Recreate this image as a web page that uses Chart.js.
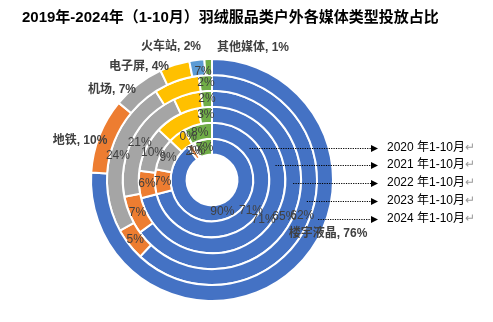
<!DOCTYPE html>
<html><head><meta charset="utf-8">
<script src="https://cdn.jsdelivr.net/npm/chart.js@4/dist/chart.umd.min.js"></script>
<style>html,body{margin:0;padding:0;background:#fff;}#wrap{position:relative;width:493px;height:322px;}</style>
</head><body><div id="wrap"><canvas id="c" width="493" height="322"></canvas></div>
<script>
// ---- data ----
const title = '2019年-2024年（1-10月）羽绒服品类户外各媒体类型投放占比';
const categories = ['楼宇液晶', '地铁', '机场', '电子屏', '火车站', '其他媒体'];
const years = ['2019', '2020', '2021', '2022', '2023', '2024'];
const v2019 = [90, 2, 1, 0, 0, 7];
const v2020 = [71, 7, 9, 5, 0, 8];
const v2021 = [71, 6, 10, 10, 0, 3];
const v2022 = [65, 7, 21, 5, 0, 2];
const v2023 = [62, 5, 24, 7, 0, 2];
const v2024 = [76, 10, 7, 4, 2, 1];
const ringNames = ['2020 年1-10月', '2021 年1-10月', '2022 年1-10月', '2023 年1-10月', '2024 年1-10月'];

// ---- styles ----
const colors = ['#4472C4', '#ED7D31', '#A5A5A5', '#FFC000', '#5B9BD5', '#70AD47'];
const FONT = '"Liberation Sans","Noto Sans CJK SC",sans-serif';
const valuesByYear = {'2019': v2019, '2020': v2020, '2021': v2021, '2022': v2022, '2023': v2023, '2024': v2024};
// which inner labels are not drawn (index into categories)
const hiddenLabels = {'2019': [3, 4], '2020': [3], '2021': [3, 4], '2022': [3, 4], '2023': [4], '2024': [0,1,2,3,4,5]};
const labelShift = {'2023': {3: [24, -17]}};
// outer-ring callout positions (text centres)
const outerLabelPos = [[328, 234], [80, 141], [112, 90], [139, 67], [171, 47], [253, 48]];
const ringNameY = [148, 165, 183, 201, 219];

const ringYears = years.slice().reverse(); // outermost first
const datasets = ringYears.map(y => ({
  label: y,
  data: valuesByYear[y],
  backgroundColor: colors,
  borderColor: '#ffffff',
  borderWidth: 2
}));

const decor = {
  id: 'decor',
  afterDatasetsDraw(chart) {
    const ctx = chart.ctx;
    ctx.save();
    // title
    ctx.fillStyle = '#000';
    ctx.font = 'bold 15px ' + FONT;
    ctx.textBaseline = 'middle';
    ctx.textAlign = 'left';
    ctx.fillText(title, 22, 18);

    // inner value labels
    ctx.font = '12px ' + FONT;
    ctx.fillStyle = '#404040';
    ctx.textAlign = 'center';
    chart.data.datasets.forEach((ds, di) => {
      const meta = chart.getDatasetMeta(di);
      const hid = hiddenLabels[ds.label] || [];
      meta.data.forEach((el, i) => {
        if (hid.includes(i)) return;
        const p = el.getCenterPoint();
        const sh = (labelShift[ds.label] || {})[i] || [0, 0];
        ctx.fillText(ds.data[i] + '%', p.x + sh[0], p.y + sh[1]);
      });
    });

    // outer ring callouts
    const outer = chart.data.datasets[0];
    outerLabelPos.forEach((pos, i) => {
      const name = chart.data.labels[i] + ', ';
      const val = outer.data[i] + '%';
      ctx.font = 'bold 12px ' + FONT;
      const w1 = ctx.measureText(name).width;
      const w2 = ctx.measureText(val).width;
      let x = pos[0] - (w1 + w2) / 2;
      ctx.textAlign = 'left';
      ctx.fillStyle = '#404040';
      ctx.fillText(name, x, pos[1]);
      ctx.fillText(val, x + w1, pos[1]);
    });

    // ring name arrows
    const meta0 = chart.getDatasetMeta(0);
    const cx = meta0.data[0].x, cy = meta0.data[0].y;
    ringNames.forEach((txt, k) => {
      const year = years[k + 1];
      const di = ringYears.indexOf(year);
      const el = chart.getDatasetMeta(di).data[0];
      const r = (el.innerRadius + el.outerRadius) / 2;
      const y = ringNameY[k];
      const dy = y - cy;
      const x0 = cx + Math.sqrt(Math.max(r * r - dy * dy, 0));
      ctx.strokeStyle = '#000';
      ctx.lineWidth = 1.2;
      ctx.setLineDash([1.2, 1.2]);
      ctx.beginPath();
      ctx.moveTo(x0, y + 0.5);
      ctx.lineTo(372, y + 0.5);
      ctx.stroke();
      ctx.setLineDash([]);
      ctx.fillStyle = '#000';
      ctx.beginPath();
      ctx.moveTo(371, y - 3);
      ctx.lineTo(378, y + 0.5);
      ctx.lineTo(371, y + 4);
      ctx.closePath();
      ctx.fill();
      ctx.font = '12px ' + FONT;
      ctx.textAlign = 'left';
      ctx.fillText(txt, 387, y);
      const tw = ctx.measureText(txt).width;
      ctx.fillStyle = '#9a9a9a';
      ctx.fillText('↵', 387 + tw, y);
    });
    ctx.restore();
  }
};

new Chart(document.getElementById('c'), {
  type: 'doughnut',
  data: { labels: categories, datasets: datasets },
  options: {
    responsive: false,
    animation: false,
    devicePixelRatio: 1,
    cutout: '21%',
    layout: { padding: { left: 90, right: 159, top: 58, bottom: 20 } },
    plugins: { legend: { display: false }, tooltip: { enabled: false }, title: { display: false } }
  },
  plugins: [decor]
});
</script></body></html>
